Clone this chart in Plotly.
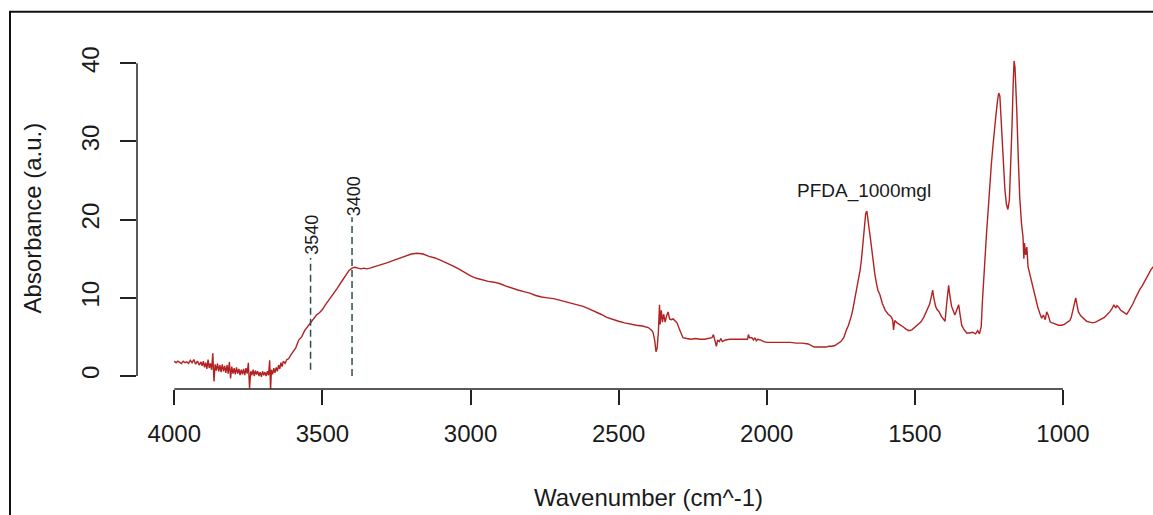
import plotly.graph_objects as go

# Wavenumber (cm^-1) and absorbance
wavenumber = [
    4000, 3994, 3988, 3982, 3976, 3970, 3964, 3958, 3952, 3946, 3940, 3934, 3928, 3922, 3916, 3910,
    3906, 3902, 3898, 3894, 3890, 3886, 3882, 3878, 3874, 3870, 3866, 3862, 3858, 3854, 3850, 3846,
    3842, 3838, 3834, 3830, 3826, 3822, 3818, 3814, 3810, 3806, 3802, 3798, 3794, 3790, 3786, 3782,
    3778, 3774, 3770, 3766, 3762, 3758, 3754, 3750, 3746, 3742, 3738, 3734, 3730, 3726, 3722, 3718,
    3714, 3710, 3706, 3702, 3698, 3694, 3690, 3686, 3682, 3678, 3675, 3672, 3668, 3664, 3660, 3656,
    3652, 3648, 3644, 3640, 3636, 3632, 3626, 3620, 3614, 3608,
    3600, 3590, 3580, 3570, 3560, 3550, 3540, 3530, 3520, 3510, 3500, 3490, 3480, 3470, 3460,
    3450, 3440, 3430, 3420, 3410, 3400, 3390, 3380, 3370, 3360, 3350, 3340, 3320, 3300, 3280, 3260,
    3240, 3220, 3200, 3180, 3160, 3140, 3120, 3100, 3080, 3060, 3040, 3020, 3000, 2980, 2960, 2940,
    2920, 2900, 2880, 2860, 2840, 2820, 2800, 2780, 2760, 2740, 2720, 2700, 2680, 2660, 2640, 2620,
    2600, 2580, 2560, 2540, 2520, 2500, 2480, 2460, 2440, 2420, 2400, 2390, 2384, 2378, 2374, 2370,
    2366, 2362, 2360, 2356, 2352, 2348, 2343, 2338, 2333, 2328, 2322, 2316, 2310, 2303, 2295, 2288,
    2283, 2270, 2255, 2240, 2225, 2210, 2195, 2185, 2180, 2176, 2170, 2166, 2160, 2155, 2150, 2140,
    2125, 2100, 2080, 2065, 2062, 2058, 2050, 2045, 2040, 2035, 2030, 2020, 2010, 2000, 1980, 1960,
    1940, 1920, 1900, 1880, 1860, 1850, 1840, 1820, 1800, 1790, 1780, 1770, 1760, 1750, 1740, 1735,
    1730, 1725, 1720, 1715, 1710, 1705, 1700, 1695, 1690, 1685, 1680, 1675, 1670, 1666, 1662, 1658,
    1655, 1650, 1645, 1640, 1635, 1630, 1625, 1618, 1610, 1600, 1590, 1580, 1575, 1572, 1568, 1560,
    1550, 1540, 1530, 1520, 1510, 1500, 1490, 1480, 1470, 1460, 1450, 1443, 1440, 1436, 1430, 1425,
    1418, 1410, 1403, 1398, 1392, 1386, 1382, 1376, 1370, 1365, 1358, 1352, 1348, 1342, 1335, 1325,
    1315, 1305, 1295, 1288, 1282, 1276, 1272, 1268, 1263, 1258, 1252, 1247, 1242, 1237, 1231, 1226,
    1221, 1217, 1213, 1209, 1205, 1200, 1196, 1191, 1186, 1181, 1176, 1172, 1168, 1165, 1162, 1159,
    1156, 1151, 1146, 1140, 1135, 1132, 1130, 1126, 1122, 1118, 1112, 1105, 1098, 1090, 1085, 1078,
    1072, 1066, 1060, 1055, 1050, 1043, 1035, 1025, 1015, 1005, 995, 985, 977, 972, 965, 960,
    957, 953, 948, 940, 930, 920, 910, 900, 890, 880, 870, 860, 850, 842, 835, 828,
    822, 818, 812, 805, 797, 790, 785, 778, 770, 763, 755, 748, 740, 733, 725, 718,
    710, 703, 698, 690,
]
absorbance = [
    1.9, 1.7, 1.9, 1.8, 1.6, 1.9, 1.7, 1.8, 1.6, 2.0, 1.7, 2.1, 1.5, 1.9, 1.4, 1.8,
    1.3, 1.9, 1.1, 1.7, 0.9, 2.1, 1.0, 1.6, 0.8, 2.9, -0.7, 1.5, 0.7, 1.6, 0.6, 1.4,
    0.5, 1.5, 0.6, 1.3, 0.4, 1.4, 0.3, 1.8, -0.3, 1.2, 0.3, 1.0, 0.2, 1.1, 0.3, 0.9,
    0.1, 0.8, 0.2, 0.9, 0.1, 1.0, 0.3, 1.7, -1.6, 0.6, 0.1, 0.8, 0.0, 0.7, 0.2, 0.6,
    0.0, 0.5, -0.1, 0.6, 0.1, 0.5, 0.0, 0.6, 0.1, 2.0, -1.7, 0.8, 0.2, 1.0, 0.4, 1.1,
    0.6, 1.4, 0.9, 1.7, 1.2, 1.9, 1.6, 2.1, 2.2, 2.6,
    3.0, 3.6, 4.6, 5.0, 5.8, 6.3, 6.9, 7.4, 7.8, 8.1, 8.5, 9.1, 9.6, 10.2, 10.7,
    11.2, 11.8, 12.4, 13.0, 13.5, 13.8, 13.9, 13.8, 13.7, 13.8, 13.7, 13.8, 14.0, 14.2, 14.5, 14.8,
    15.1, 15.4, 15.6, 15.7, 15.6, 15.3, 15.1, 14.8, 14.5, 14.1, 13.7, 13.2, 12.8, 12.5, 12.3, 12.1,
    12.0, 11.8, 11.5, 11.2, 11.0, 10.8, 10.6, 10.3, 10.1, 10.0, 9.9, 9.7, 9.5, 9.3, 9.1, 8.9,
    8.6, 8.3, 7.9, 7.5, 7.2, 7.0, 6.8, 6.6, 6.5, 6.4, 6.2, 5.9, 5.6, 4.5, 3.1, 3.6,
    5.5, 9.1, 6.6, 8.4, 6.9, 7.9, 6.9, 7.7, 8.2, 7.3, 7.2, 7.3, 7.1, 6.8, 6.0, 5.2,
    4.9, 4.8, 4.7, 4.8, 4.7, 4.7, 4.8, 4.9, 5.3, 4.5, 3.8, 4.6, 4.4, 4.8, 4.4, 4.6,
    4.7, 4.7, 4.7, 4.7, 5.3, 4.9, 4.9, 4.6, 4.9, 4.5, 4.7, 4.6, 4.4, 4.3, 4.3, 4.3,
    4.3, 4.3, 4.2, 4.2, 4.1, 3.9, 3.7, 3.7, 3.7, 3.8, 3.8, 3.9, 4.1, 4.4, 4.9, 5.6,
    6.0, 6.4, 6.9, 7.6, 8.4, 9.4, 10.4, 11.4, 12.3, 13.5, 15.0, 17.0, 19.2, 20.8, 21.1, 20.2,
    19.0, 17.6, 15.8, 14.2, 13.0, 11.9, 11.0, 10.4, 9.3, 8.4, 7.9, 7.6, 7.2, 5.9, 7.1, 6.8,
    6.6, 6.3, 6.0, 5.8, 5.9, 6.2, 6.6, 6.9, 7.5, 8.4, 9.2, 10.4, 11.0, 10.0, 8.9, 8.5,
    8.2, 7.6, 7.2, 7.0, 9.5, 11.6, 10.3, 8.9, 8.3, 7.8, 8.5, 9.1, 8.0, 6.5, 6.0, 5.5,
    5.5, 5.6, 5.4, 5.8, 5.4, 6.3, 9.5, 12.5, 15.4, 18.3, 21.5, 24.7, 27.0, 29.2, 31.9, 33.5,
    35.2, 36.2, 35.8, 33.0, 29.0, 26.0, 23.8, 22.0, 21.3, 22.5, 26.8, 32.0, 37.5, 40.3, 39.5, 37.0,
    34.0, 28.0, 22.9, 19.5, 17.8, 15.0, 17.0, 15.5, 16.5, 14.0, 13.0, 11.9, 10.6, 9.5, 8.8, 8.0,
    7.4, 7.8, 7.2, 8.2, 7.8, 6.9, 6.8, 6.6, 6.5, 6.5, 6.6, 6.9, 7.1, 7.5, 8.6, 9.6,
    10.0, 9.2, 8.2, 7.7, 7.3, 7.0, 6.9, 6.8, 6.9, 7.1, 7.3, 7.5, 7.9, 8.2, 8.6, 9.1,
    8.7, 9.0, 8.8, 8.4, 8.2, 8.0, 7.9, 8.3, 8.8, 9.3, 10.0, 10.6, 11.1, 11.5, 12.0, 12.5,
    13.1, 13.6, 13.9, 14.2,
]

x_ticks = [4000, 3500, 3000, 2500, 2000, 1500, 1000]
y_ticks = [0, 10, 20, 30, 40]
marker_wn = [3540, 3400]
marker_bottom = [0.8, 0.0]
marker_top = [15.1, 20.3]
marker_label_y = [18.0, 23.0]
sample_label = "PFDA_1000mgl"

FONT = "Liberation Sans, Arial, sans-serif"
INK = "#1a1a1a"
W, H = 1153, 515
ML, MT, MB = 137, 48, 126
PW, PH = W - ML, H - MT - MB

fig = go.Figure()
fig.add_trace(go.Scatter(x=wavenumber, y=absorbance, mode="lines",
                         line=dict(color="#B22222", width=1.4), showlegend=False,
                         hoverinfo="skip"))

for wn, y0, y1, ly in zip(marker_wn, marker_bottom, marker_top, marker_label_y):
    fig.add_shape(type="line", x0=wn, x1=wn, y0=y0, y1=y1, xref="x", yref="y",
                  line=dict(color="#2F4F4F", width=1.5, dash="7px,4px"))
    fig.add_annotation(x=wn, y=ly, xref="x", yref="y", text=str(wn), showarrow=False,
                       textangle=-90, xshift=2, xanchor="center", yanchor="middle",
                       font=dict(family=FONT, size=18, color=INK))

fig.add_annotation(x=1673, y=23.7, xref="x", yref="y", text=sample_label, showarrow=False,
                   xanchor="center", yanchor="middle",
                   font=dict(family=FONT, size=19, color=INK))

# R-style axis lines spanning only first to last tick
fig.add_shape(type="line", x0=x_ticks[0], x1=x_ticks[-1], y0=0, y1=0, xref="x", yref="paper",
              line=dict(color="#222", width=1.5))
fig.add_shape(type="line", x0=0, x1=0, y0=y_ticks[0], y1=y_ticks[-1], xref="paper", yref="y",
              line=dict(color="#222", width=1.5))

# outer frame (only top/left visible in the crop)
fig.add_shape(type="rect", xref="paper", yref="paper",
              x0=(10 - ML) / PW, x1=1.3, y0=-0.6, y1=(H - MB - 11.8) / PH,
              line=dict(color="#111", width=2))

# axis titles
fig.add_annotation(x=(648 - ML) / PW, y=-(497 - (H - MB)) / PH, xref="paper", yref="paper",
                   text="Wavenumber (cm^-1)", showarrow=False, xanchor="center", yanchor="middle",
                   font=dict(family=FONT, size=24, color=INK))
fig.add_annotation(x=-(ML - 32) / PW, y=(H - MB - 218.5) / PH, xref="paper", yref="paper",
                   text="Absorbance (a.u.)", showarrow=False, textangle=-90,
                   xanchor="center", yanchor="middle",
                   font=dict(family=FONT, size=24, color=INK))

fig.update_layout(
    width=W, height=H, margin=dict(l=ML, r=0, t=MT, b=MB, pad=0),
    paper_bgcolor="white", plot_bgcolor="white",
    font=dict(family=FONT, color=INK),
    xaxis=dict(range=[4125.9, 696.1], tickvals=x_ticks, ticktext=[str(v) for v in x_ticks],
               ticks="outside", ticklen=15, tickwidth=1.5, tickcolor="#222",
               showgrid=False, zeroline=False, showline=False,
               tickfont=dict(family=FONT, size=24, color=INK), ticklabelstandoff=8),
    yaxis=dict(range=[-1.663, 41.957], tickvals=y_ticks, ticktext=[str(v) for v in y_ticks],
               ticks="outside", ticklen=16, tickwidth=1.5, tickcolor="#222",
               showgrid=False, zeroline=False, showline=False, tickangle=-90,
               tickfont=dict(family=FONT, size=24, color=INK), ticklabelstandoff=11),
)

fig.write_html("out.html")
